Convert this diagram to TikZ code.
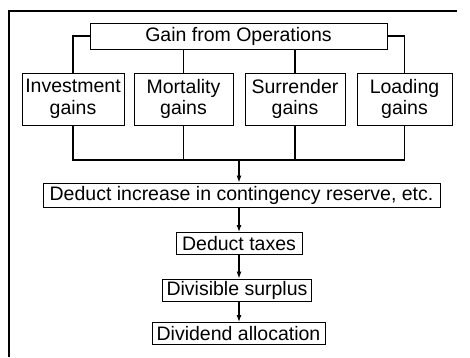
\documentclass[tikz,border=0pt]{standalone}
\usepackage{fontspec}
\setmainfont{Liberation Sans}
\usepackage{tikz}
\usetikzlibrary{calc}
\usetikzlibrary{arrows.meta}

\tikzset{
    gainbox/.style={draw, line width=0.8pt, inner xsep=2pt, inner ysep=1pt, align=center},
    stagebox/.style={draw, line width=0.8pt, inner xsep=4pt, inner ysep=1pt, minimum height=22pt},
    link/.style={line width=1.3pt},
    flow/.style={line width=1.3pt, -{Latex[length=7pt,width=5pt]}}
}

\begin{document}
\begin{tikzpicture}[x=1pt, y=-1pt, font=\fontsize{19.5}{21.5}\selectfont]
    \useasboundingbox (0,0) rectangle (470,357);
    %FRAME
    \draw[line width=2pt] (9,357) -- (9,11) -- (457,11);
    %GAIN
    \node[gainbox, minimum width=297pt, minimum height=26pt] (gain) at (238.5,36) {Gain from Operations};
    %SOURCES
    \node[gainbox, minimum width=102pt, minimum height=52pt] (inv) at (73,99) {Investment\\gains};
    \node[gainbox, minimum width=99pt, minimum height=52pt] (mort) at (183.5,99) {Mortality\\gains};
    \node[gainbox, minimum width=100pt, minimum height=52pt] (surr) at (295,99) {Surrender\\gains};
    \node[gainbox, minimum width=95pt, minimum height=52pt] (load) at (404.5,99) {Loading\\gains};
    %STAGES
    \node[stagebox, minimum width=397pt, minimum height=24pt] (contg) at (241.5,195) {Deduct increase in contingency reserve, etc.};
    \node[stagebox, minimum width=126pt] (tax) at (239,243.5) {Deduct taxes};
    \node[stagebox, minimum width=144pt] (surp) at (237,290) {Divisible surplus};
    \node[stagebox, minimum width=173pt] (divd) at (238.5,333.5) {Dividend allocation};
    \coordinate (join) at (239,160);
    %BRANCHES
    \draw[link] (gain.west) -| (inv.north);
    \draw[link] (gain.east) -| (load.north);
    \draw[link] (mort.north |- gain.south) -- (mort.north);
    \draw[link] (surr.north |- gain.south) -- (surr.north);
    %COLLECT
    \draw[link] (inv.south) |- (join) -| (load.south);
    \draw[link] (mort.south) -- (mort.south |- join);
    \draw[link] (surr.south) -- (surr.south |- join);
    %ARROWS
    \draw[flow] (join) -- (join |- contg.north);
    \draw[flow] (join |- contg.south) -- (join |- tax.north);
    \draw[flow] (join |- tax.south) -- (join |- surp.north);
    \draw[flow] (join |- surp.south) -- (join |- divd.north);
\end{tikzpicture}
\end{document}
